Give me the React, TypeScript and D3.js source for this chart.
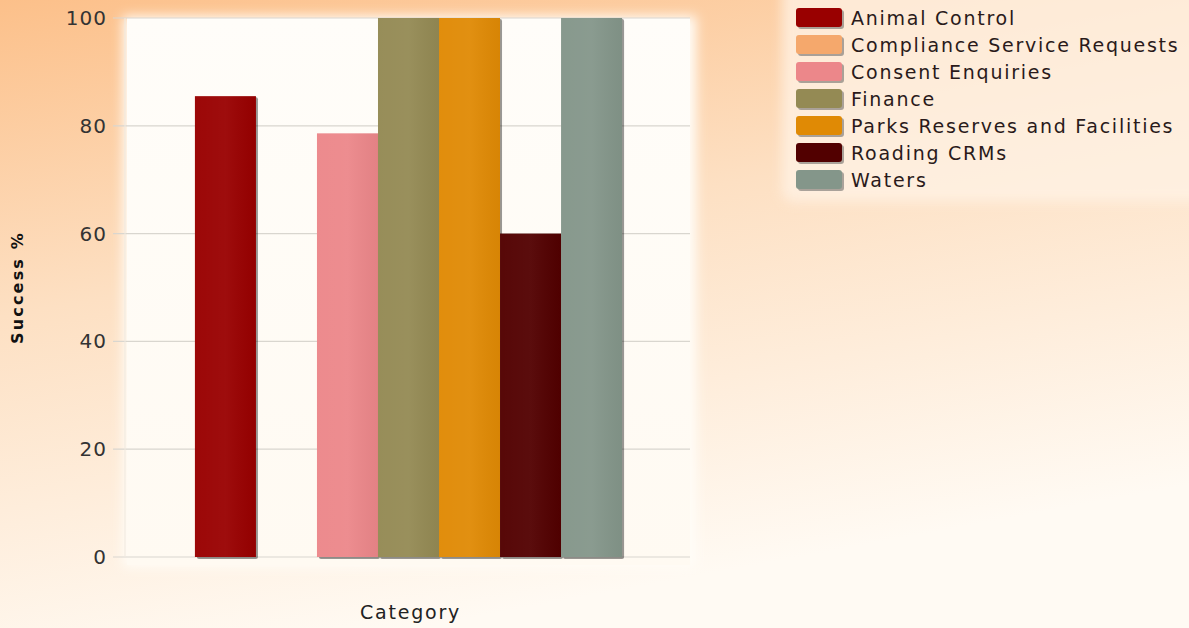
import React, { useEffect, useRef } from 'react';
import * as d3 from 'd3';

const categories = [''];
const seriesNames = [
  'Animal Control',
  'Compliance Service Requests',
  'Consent Enquiries',
  'Finance',
  'Parks Reserves and Facilities',
  'Roading CRMs',
  'Waters',
];
const seriesValues = [85.5, 0, 78.6, 100, 100, 60, 100];
const seriesColors = ['#990000', '#f5a86c', '#ec878a', '#948a54', '#e08a05', '#520000', '#84968a'];
const yTicks = [0, 20, 40, 60, 80, 100];

const App = () => {
  const svgRef = useRef<SVGSVGElement>(null);

  useEffect(() => {
    const svg = d3.select(svgRef.current);
    svg.selectAll('*').remove();
    const width = 1189;
    const height = 628;
    const margin = { top: 18, right: 499, bottom: 71, left: 127 };
    const font = 'Verdana, "DejaVu Sans", sans-serif';

    svg.attr('width', width).attr('height', height);

    const defs = svg.append('defs');
    const bg = defs.append('linearGradient').attr('id', 'bg').attr('x1', 0).attr('y1', 0).attr('x2', 0.35).attr('y2', 1);
    bg.append('stop').attr('offset', '0%').attr('stop-color', '#fcc08a');
    bg.append('stop').attr('offset', '45%').attr('stop-color', '#fde0c3');
    bg.append('stop').attr('offset', '100%').attr('stop-color', '#fffaf3');

    const panel = defs.append('linearGradient').attr('id', 'panel').attr('x1', 0).attr('y1', 0).attr('x2', 0).attr('y2', 1);
    panel.append('stop').attr('offset', '0%').attr('stop-color', '#fffdf9');
    panel.append('stop').attr('offset', '100%').attr('stop-color', '#fffaf2');

    const blur = defs.append('filter').attr('id', 'soft').attr('x', '-10%').attr('y', '-20%').attr('width', '120%').attr('height', '140%');
    blur.append('feGaussianBlur').attr('stdDeviation', 6);

    const sheen = defs.append('linearGradient').attr('id', 'sheen').attr('x1', 0).attr('x2', 1).attr('y1', 0).attr('y2', 0);
    sheen.append('stop').attr('offset', '0%').attr('stop-color', '#fff').attr('stop-opacity', 0.03);
    sheen.append('stop').attr('offset', '50%').attr('stop-color', '#fff').attr('stop-opacity', 0.05);
    sheen.append('stop').attr('offset', '100%').attr('stop-color', '#000').attr('stop-opacity', 0.04);

    svg.append('rect').attr('width', width).attr('height', height).attr('fill', 'url(#bg)');

    const innerW = width - margin.left - margin.right;
    const innerH = height - margin.top - margin.bottom;

    // plot panel
    svg
      .append('rect')
      .attr('x', margin.left - 4)
      .attr('y', margin.top - 2)
      .attr('width', innerW + 10)
      .attr('height', innerH + 12)
      .attr('fill', '#fffdf8')
      .attr('filter', 'url(#soft)');
    svg
      .append('rect')
      .attr('x', margin.left)
      .attr('y', margin.top)
      .attr('width', innerW)
      .attr('height', innerH + 8)
      .attr('fill', 'url(#panel)');

    const y = d3.scaleLinear().domain([0, 100]).range([margin.top + innerH, margin.top]);

    const x0 = d3
      .scaleBand()
      .domain(categories)
      .range([margin.left, margin.left + innerW])
      .paddingInner(0)
      .paddingOuter(0.159);

    const x1 = d3.scaleBand().domain(seriesNames).range([0, x0.bandwidth()]).padding(0);

    // gridlines
    svg
      .append('g')
      .selectAll('line')
      .data(yTicks)
      .enter()
      .append('line')
      .attr('x1', margin.left - 14)
      .attr('x2', margin.left + innerW)
      .attr('y1', (d) => y(d))
      .attr('y2', (d) => y(d))
      .attr('stroke', '#d9d6cf')
      .attr('stroke-width', 1.2);

    svg
      .append('line')
      .attr('x1', margin.left - 2)
      .attr('x2', margin.left - 2)
      .attr('y1', margin.top)
      .attr('y2', margin.top + innerH)
      .attr('stroke', '#efe9df');

    // y tick labels
    svg
      .append('g')
      .selectAll('text')
      .data(yTicks)
      .enter()
      .append('text')
      .attr('x', margin.left - 20)
      .attr('y', (d) => y(d))
      .attr('dy', '0.35em')
      .attr('text-anchor', 'end')
      .style('font-family', font)
      .style('font-size', '20px')
      .style('letter-spacing', '1px')
      .style('fill', '#333')
      .text((d) => d);

    // bars
    const groups = svg
      .append('g')
      .selectAll('g')
      .data(categories)
      .enter()
      .append('g')
      .attr('transform', (d) => `translate(${x0(d)},0)`);

    const bars = groups
      .selectAll('g.bar')
      .data(seriesNames.map((name, i) => ({ name, value: seriesValues[i], color: seriesColors[i] })).filter((d) => d.value > 0))
      .enter()
      .append('g')
      .attr('class', 'bar');

    bars
      .append('rect')
      .attr('x', (d) => (x1(d.name) as number) + 2)
      .attr('y', (d) => y(d.value) + 1)
      .attr('width', x1.bandwidth())
      .attr('height', (d) => y(0) - y(d.value) + 1)
      .attr('rx', 2)
      .attr('fill', '#000')
      .attr('opacity', 0.4);

    bars
      .append('rect')
      .attr('x', (d) => x1(d.name) as number)
      .attr('y', (d) => y(d.value))
      .attr('width', x1.bandwidth())
      .attr('height', (d) => y(0) - y(d.value))
      .attr('fill', (d) => d.color);

    bars
      .append('rect')
      .attr('x', (d) => x1(d.name) as number)
      .attr('y', (d) => y(d.value))
      .attr('width', x1.bandwidth())
      .attr('height', (d) => y(0) - y(d.value))
      .attr('fill', 'url(#sheen)');

    // axis titles
    svg
      .append('text')
      .attr('transform', `translate(23,${margin.top + innerH / 2}) rotate(-90)`)
      .attr('text-anchor', 'middle')
      .style('font-family', font)
      .style('font-size', '16px')
      .style('font-weight', 'bold')
      .style('letter-spacing', '2.2px')
      .style('fill', '#111')
      .text('Success %');

    svg
      .append('text')
      .attr('x', margin.left + innerW / 2 + 2)
      .attr('y', 619)
      .attr('text-anchor', 'middle')
      .style('font-family', font)
      .style('font-size', '19px')
      .style('letter-spacing', '1.8px')
      .style('fill', '#222')
      .text('Category');

    // legend
    const lx = 796;
    const ly = 8;
    const step = 27;
    svg
      .append('rect')
      .attr('x', 782)
      .attr('y', -20)
      .attr('width', 430)
      .attr('height', 222)
      .attr('rx', 12)
      .attr('fill', '#fff3e6')
      .attr('opacity', 0.75)
      .attr('filter', 'url(#soft)');

    const legend = svg
      .append('g')
      .selectAll('g')
      .data(seriesNames)
      .enter()
      .append('g')
      .attr('transform', (d, i) => `translate(${lx},${ly + i * step})`);

    legend
      .append('rect')
      .attr('x', 2)
      .attr('y', 2)
      .attr('width', 46)
      .attr('height', 19)
      .attr('rx', 3)
      .attr('fill', '#555')
      .attr('opacity', 0.5);
    legend
      .append('rect')
      .attr('width', 46)
      .attr('height', 19)
      .attr('rx', 3)
      .attr('fill', (d, i) => seriesColors[i]);

    legend
      .append('text')
      .attr('x', 55)
      .attr('y', 10)
      .attr('dy', '0.35em')
      .style('font-family', font)
      .style('font-size', '19px')
      .style('letter-spacing', '1.75px')
      .style('fill', '#2a1a1a')
      .text((d) => d);
  }, []);

  return <svg ref={svgRef} style={{ position: 'absolute', left: 0, top: 0, display: 'block' }}></svg>;
};

export default App;
